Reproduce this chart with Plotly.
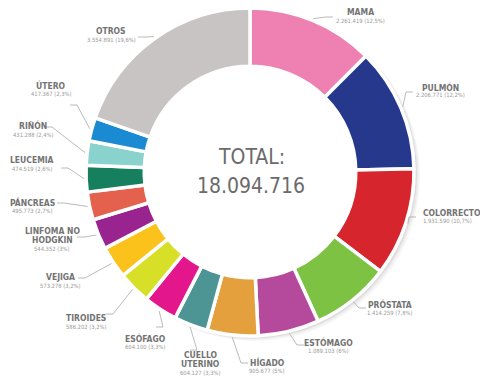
import math
import plotly.graph_objects as go

# ---------------- data ----------------
categories = ["MAMA", "PULMÓN", "COLORRECTO", "PRÓSTATA", "ESTÓMAGO", "HÍGADO",
              "CUELLO UTERINO", "ESÓFAGO", "TIROIDES", "VEJIGA",
              "LINFOMA NO HODGKIN", "PÁNCREAS", "LEUCEMIA", "RIÑÓN", "ÚTERO", "OTROS"]
cases = [2261419, 2206771, 1931590, 1414259, 1089103, 905677,
         604127, 604100, 586202, 573278,
         544352, 495773, 474519, 431288, 417367, 3554891]
total_label = "TOTAL:"

# ---------------- style / layout ----------------
colors = ["#EE80B2", "#25388C", "#D6252D", "#7DC242", "#B54A9C", "#E3A03C",
          "#4C9594", "#E4168B", "#D7DF27", "#FBC21B",
          "#992490", "#E3614D", "#16805E", "#8AD2CD", "#1A8BD2", "#C8C4C4"]
name_lines = {"LINFOMA NO HODGKIN": ["LINFOMA NO", "HODGKIN"],
              "CUELLO UTERINO": ["CUELLO", "UTERINO"]}
# label placement in px: (x, y of first name line, xanchor, leader end x, leader end y)
label_pos = [
    (360, 12.5, "center", 333, 17),
    (440, 87, "center", 413, 92),
    (421, 213, "left", 416, 217),
    (390, 304.5, "center", 366, 308),
    (328, 342.5, "center", 304, 345),
    (267, 362.5, "center", 248, 363),
    (200, 355, "center", 190, 350),
    (145, 338, "center", 156, 327),
    (86, 318, "center", 106, 314),
    (60, 277, "center", 78, 278),
    (52, 231, "center", 77, 237),
    (32, 202, "center", 57, 203),
    (32, 160.5, "center", 61, 168),
    (33, 126, "center", 45, 127),
    (51, 85, "center", 70, 105),
    (111, 31, "center", 138, 37),
]

W, H = 480, 383
CX, CY, R = 250, 172, 164
HOLE = 0.645
FONT = "DejaVu Sans Condensed, Liberation Sans Narrow, sans-serif"
NAME_COLOR = "#737373"
VAL_COLOR = "#9a9a9a"
LINE_COLOR = "#a8a8a8"
LINE_GAP = 9


def px(x):
    return x / W


def py(y):
    return 1 - y / H


def domain(cx, cy, r):
    return dict(x=[px(cx - r), px(cx + r)], y=[py(cy + r), py(cy - r)])


total = sum(cases)


def fmt_num(v):
    return f"{v:,}".replace(",", ".")


def fmt_pct(v):
    p = round(v / total * 100, 1)
    s = f"{p:.1f}"
    if s.endswith(".0"):
        s = s[:-2]
    return s.replace(".", ",") + "%"


fig = go.Figure()

# soft shadow behind the ring
r_in = R * HOLE
for dx, dy, a in [(5, 4, 0.035), (3.5, 2.5, 0.045), (2, 1.5, 0.06)]:
    d = math.hypot(dx, dy)
    rs = R + 1
    fig.add_trace(go.Pie(values=[1], labels=["s"], marker=dict(colors=[f"rgba(0,0,0,{a})"]),
                         domain=domain(CX + dx, CY + dy, rs), hole=(r_in + d + 1) / rs,
                         textinfo="none", hoverinfo="skip", sort=False, showlegend=False))

fig.add_trace(go.Pie(
    labels=categories, values=cases, sort=False, direction="clockwise", rotation=0,
    hole=HOLE, domain=domain(CX, CY, R),
    marker=dict(colors=colors, line=dict(color="white", width=3.5)),
    textinfo="none", showlegend=False,
))

annotations = []
shapes = []
cum = 0
for i, (cat, v) in enumerate(zip(categories, cases)):
    mid = (cum + v / 2) / total * 2 * math.pi
    cum += v
    x, y, anchor, ex, ey = label_pos[i]
    lines = name_lines.get(cat, [cat])
    for k, ln in enumerate(lines):
        annotations.append(dict(x=px(x), y=py(y + k * LINE_GAP), xref="paper", yref="paper",
                                text=f"<b>{ln}</b>", showarrow=False, xanchor=anchor,
                                yanchor="middle",
                                font=dict(family=FONT, size=8.5, color=NAME_COLOR)))
    vy = y + (len(lines) - 1) * LINE_GAP + 8.5
    annotations.append(dict(x=px(x), y=py(vy), xref="paper", yref="paper",
                            text=f"{fmt_num(v)} ({fmt_pct(v)})", showarrow=False,
                            xanchor=anchor, yanchor="middle",
                            font=dict(family=FONT, size=5.8, color=VAL_COLOR)))
    # leader line
    rx = CX + (R + 2) * math.sin(mid)
    ry = CY - (R + 2) * math.cos(mid)
    sgn = 1 if rx >= ex else -1
    bx, by = ex + sgn * 7, ey
    for (x0, y0, x1, y1) in [(ex, ey, bx, by), (bx, by, rx, ry)]:
        shapes.append(dict(type="line", xref="paper", yref="paper",
                           x0=px(x0), y0=py(y0), x1=px(x1), y1=py(y1),
                           line=dict(color=LINE_COLOR, width=0.8)))

annotations.append(dict(x=px(CX + 1), y=py(157), xref="paper", yref="paper",
                        text=total_label, showarrow=False,
                        font=dict(family=FONT, size=21, color="#6b6b6b")))
annotations.append(dict(x=px(CX + 1), y=py(186), xref="paper", yref="paper",
                        text=fmt_num(total), showarrow=False,
                        font=dict(family=FONT, size=21, color="#6b6b6b")))

fig.update_layout(width=W, height=H, margin=dict(l=0, r=0, t=0, b=0),
                  paper_bgcolor="white", plot_bgcolor="white",
                  annotations=annotations, shapes=shapes)

fig.write_html("out.html")
